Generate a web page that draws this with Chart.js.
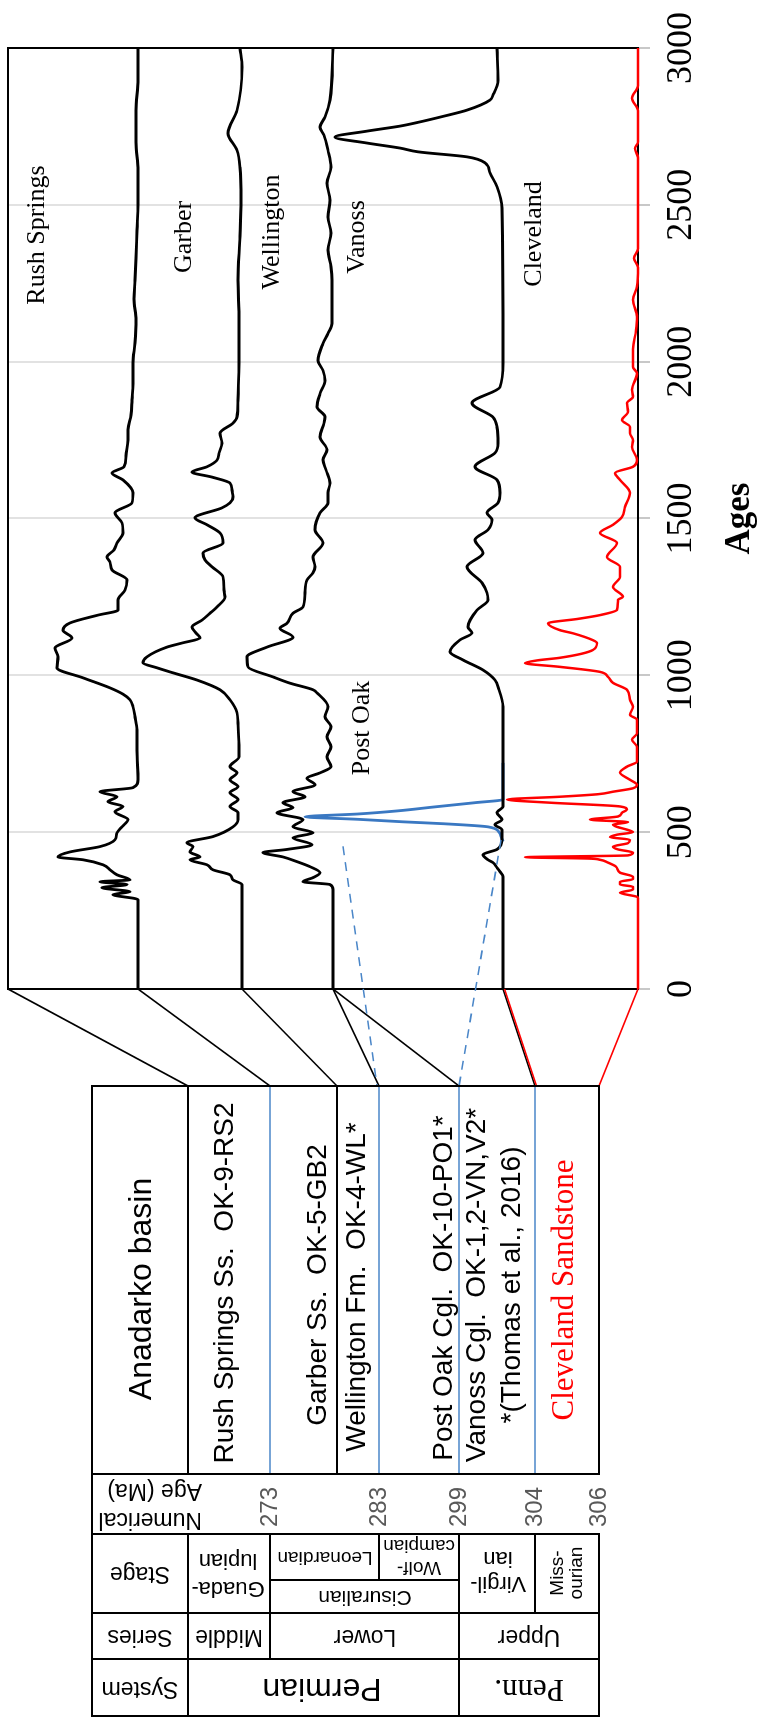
<!DOCTYPE html>
<html>
<head>
<meta charset="utf-8">
<script src="https://cdn.jsdelivr.net/npm/chart.js@4.4.1/dist/chart.umd.min.js"></script>
<style>
  html, body { margin: 0; padding: 0; background: #fff; }
  body { width: 762px; height: 1720px; overflow: hidden; position: relative; }
  /* the figure is drawn lying on its side, then turned a quarter turn */
  #wrap { position: absolute; left: 0; top: 0; width: 1720px; height: 762px;
          transform-origin: 0 0; transform: translateY(1720px) rotate(-90deg); }
  #agesChart { width: 1720px; height: 762px; }
</style>
</head>
<body>
<div id="wrap"><canvas id="agesChart" width="1720" height="762"></canvas></div>
<script>
// ages axis (Ma)
const ageTicks = [0, 500, 1000, 1500, 2000, 2500, 3000];

// each curve: ages, height above its own baseline, and the baseline
const rushAge = [0, 285, 301, 310, 323, 333, 342, 348, 364, 380, 396, 412, 421, 437, 454, 476, 498, 517, 540, 565, 582, 597, 613, 629, 642, 667, 760, 826, 868, 900, 922, 940, 960, 992, 1024, 1059, 1087, 1119, 1144, 1167, 1192, 1208, 1240, 1272, 1304, 1336, 1361, 1377, 1400, 1422, 1454, 1486, 1518, 1550, 1582, 1623, 1645, 1665, 1700, 1750, 1783, 1830, 1878, 1930, 1996, 2060, 2133, 2200, 2260, 2330, 2419, 2502, 2610, 2700, 2801, 2900, 3000];
const rushH = [0, 0, 25, 8, 36, 11, 38, 8, 21, 28, 35, 55, 80, 68, 38, 23, 21, 16, 10, 23, 15, 30, 21, 38, 5, 0, 1, 1, 3, 5, 8, 15, 28, 55, 81, 80, 83, 66, 75, 68, 40, 20, 20, 13, 11, 26, 28, 31, 24, 21, 15, 16, 23, 6, 5, 15, 26, 14, 12, 10, 10, 7, 6, 5, 5, 3, 2, 4, 3, 2, 1, 0, 0, 2, 2, 0, 0];
const rushBase = 500;

const garberAge = [0, 333, 348, 364, 380, 396, 412, 421, 437, 454, 466, 486, 517, 540, 562, 582, 604, 626, 645, 667, 689, 709, 740, 778, 848, 881, 922, 954, 985, 1008, 1024, 1040, 1059, 1090, 1103, 1119, 1135, 1154, 1176, 1198, 1218, 1250, 1272, 1314, 1346, 1368, 1390, 1422, 1454, 1480, 1502, 1534, 1550, 1569, 1591, 1613, 1632, 1648, 1665, 1686, 1708, 1740, 1772, 1804, 1824, 1878, 1996, 2133, 2260, 2400, 2515, 2620, 2674, 2728, 2801, 2939, 3000];
const garberH = [0, 0, 9, 12, 29, 35, 52, 42, 52, 49, 55, 29, 9, 4, 4, 12, 4, 12, 4, 12, 5, 12, 3, 3, 4, 5, 12, 22, 45, 69, 85, 99, 95, 75, 60, 42, 46, 50, 40, 32, 25, 17, 18, 19, 30, 37, 39, 19, 22, 35, 47, 20, 12, 9, 10, 12, 30, 50, 35, 25, 23, 20, 22, 9, 5, 4, 3, 3, 4, 2, 1, 2, 5, 14, 5, 0, 2];
const garberBase = 396;

const wellAge = [0, 317, 333, 342, 355, 371, 390, 406, 421, 435, 445, 460, 482, 498, 517, 540, 562, 578, 594, 613, 629, 651, 672, 689, 709, 740, 772, 804, 836, 868, 900, 944, 954, 975, 995, 1027, 1059, 1090, 1122, 1150, 1166, 1198, 1218, 1263, 1304, 1327, 1346, 1377, 1422, 1464, 1518, 1550, 1582, 1613, 1655, 1687, 1719, 1760, 1804, 1824, 1856, 1898, 1940, 1972, 2004, 2058, 2090, 2122, 2260, 2302, 2356, 2410, 2461, 2515, 2569, 2620, 2674, 2722, 2748, 2780, 2834, 3000];
const wellH = [0, 0, 3, 30, 20, 13, 23, 36, 50, 70, 46, 21, 40, 20, 40, 30, 56, 40, 50, 28, 40, 18, 26, 13, 2, 6, 2, 6, 2, 8, 5, 16, 20, 43, 60, 85, 86, 66, 40, 53, 46, 40, 30, 28, 26, 20, 18, 20, 10, 18, 13, 5, 5, 3, 7, 10, 6, 13, 9, 8, 16, 13, 8, 10, 15, 10, 5, 1, 1, 2, 5, 2, 5, 3, 6, 2, 5, 9, 13, 8, 3, 0];
const wellBase = 305;

const vanAge = [0, 358, 374, 387, 403, 412, 428, 445, 460, 476, 508, 524, 540, 562, 582, 900, 922, 954, 985, 1017, 1049, 1075, 1113, 1135, 1154, 1208, 1240, 1263, 1295, 1346, 1390, 1432, 1464, 1496, 1518, 1550, 1582, 1623, 1665, 1709, 1740, 1791, 1823, 1868, 1919, 1996, 2490, 2558, 2602, 2634, 2653, 2669, 2681, 2697, 2716, 2735, 2751, 2763, 2782, 2802, 2834, 2850, 2897, 3000];
const vanH = [0, 0, 3, 6, 10, 15, 20, 6, 2, 1, 1, 8, 1, 6, 0, 0, 1, 4, 8, 20, 40, 53, 43, 31, 35, 26, 15, 16, 21, 36, 20, 28, 15, 11, 16, 5, 3, 6, 28, 8, 5, 6, 10, 31, 3, 0, 1, 6, 13, 18, 36, 85, 103, 136, 168, 136, 103, 85, 60, 36, 13, 10, 5, 6];
const vanBase = 135;

const postAge = [470, 486, 500, 517, 527, 533, 541, 549, 558, 568, 580, 594, 604, 613, 721];
const postH = [0, 2, 4, 15, 60, 100, 145, 198, 145, 105, 70, 28, 0, 0, 0];
const postBase = 135;

const clevAge = [0, 290, 294, 307, 317, 326, 333, 342, 350, 358, 371, 390, 403, 412, 416, 420, 426, 435, 445, 454, 465, 476, 484, 492, 500, 508, 517, 524, 532, 540, 550, 562, 572, 582, 594, 604, 613, 621, 629, 640, 651, 667, 690, 709, 725, 741, 772, 795, 815, 859, 874, 900, 922, 954, 976, 995, 1011, 1027, 1039, 1048, 1056, 1081, 1103, 1112, 1134, 1144, 1166, 1180, 1192, 1209, 1241, 1250, 1282, 1314, 1346, 1377, 1422, 1454, 1480, 1505, 1537, 1582, 1623, 1645, 1665, 1687, 1728, 1750, 1772, 1792, 1814, 1840, 1868, 1888, 1910, 1963, 1983, 2040, 2100, 2143, 2197, 2240, 2300, 2330, 2360, 2650, 2680, 2700, 2800, 2840, 2880, 3000];
const clevH = [0, 0, 1, 18, 5, 5, 18, 18, 5, 5, 18, 22, 30, 38, 50, 113, 10, 5, 20, 25, 10, 8, 28, 21, 5, 11, 21, 25, 10, 48, 20, 16, 11, 18, 88, 131, 78, 40, 25, 5, 1, 8, 18, 11, 1, 1, 1, 6, 1, 1, 8, 5, 8, 11, 25, 30, 38, 78, 113, 100, 78, 45, 41, 45, 65, 78, 90, 60, 38, 21, 20, 15, 25, 18, 18, 31, 21, 38, 25, 16, 13, 8, 18, 23, 5, 1, 6, 5, 8, 8, 16, 10, 11, 5, 6, 1, 5, 5, 2, 1, 5, 1, 0, 4, 0, 0, 3, 0, 0, 6, 0, 0];
const clevBase = 0;

// time column of the table
const stageAges = ['273', '283', '299', '304', '306'];
const stageCols = [270, 379, 459, 535, 599];

const stack = (ages, h, base) => ages.map((a, i) => ({ x: a, y: base + h[i] }));

const H = 1720;
const sans = '"Liberation Sans", Arial, sans-serif';
const serif = '"Liberation Serif", "Times New Roman", serif';
const UP = -Math.PI / 2, FLIP = Math.PI;
const blue = '#4a86c8';

function words(ctx, lines, x, y, font, color, angle, gap, align) {
  ctx.save();
  ctx.translate(x, y);
  ctx.rotate(angle);
  ctx.font = font;
  ctx.fillStyle = color;
  ctx.textAlign = align || 'center';
  ctx.textBaseline = 'middle';
  const start = -(lines.length - 1) * (gap || 0) / 2;
  lines.forEach((s, i) => ctx.fillText(s, 0, start + i * (gap || 0)));
  ctx.restore();
}

function seg(ctx, x1, y1, x2, y2) {
  ctx.beginPath();
  ctx.moveTo(x1, y1);
  ctx.lineTo(x2, y2);
  ctx.stroke();
}

const frame = {
  id: 'frame',
  beforeDatasetsDraw(chart) {
    const a = chart.chartArea, ctx = chart.ctx;
    ctx.save();
    ctx.strokeStyle = '#000';
    ctx.lineWidth = 2;
    ctx.strokeRect(a.left, a.top, a.right - a.left, a.bottom - a.top);
    ctx.restore();
  },
  afterDraw(chart) {
    const ctx = chart.ctx;
    const xs = chart.scales.x, ys = chart.scales.y;
    // picture coordinates: x across the page, y down the page
    const pic = (age, v) => [ys.getPixelForValue(v), H - xs.getPixelForValue(age)];
    ctx.save();
    ctx.setTransform(0, 1, -1, 0, H, 0);

    // curve names
    const nm = '26px ' + serif;
    words(ctx, ['Rush Springs'], 37, 235, nm, '#000', UP);
    words(ctx, ['Garber'], 184, 237, nm, '#000', UP);
    words(ctx, ['Wellington'], 272, 232, nm, '#000', UP);
    words(ctx, ['Vanoss'], 357, 237, nm, '#000', UP);
    words(ctx, ['Cleveland'], 534, 234, nm, '#000', UP);
    words(ctx, ['Post Oak'], 362, 728, nm, '#000', UP);

    // lines from the curve baselines down to the table
    const tTop = 1086;
    ctx.lineWidth = 1.6;
    ctx.strokeStyle = '#000';
    let p = pic(0, 630); seg(ctx, p[0], p[1], 188, tTop);
    p = pic(0, rushBase); seg(ctx, p[0], p[1], 270, tTop);
    p = pic(0, garberBase); seg(ctx, p[0], p[1], 337, tTop);
    p = pic(0, wellBase); seg(ctx, p[0], p[1], 379, tTop);
    seg(ctx, p[0], p[1], 459, tTop);
    p = pic(0, vanBase); seg(ctx, p[0], p[1], 535, tTop);
    ctx.strokeStyle = '#ff0000';
    seg(ctx, p[0] + 1.5, p[1], 536.5, tTop);
    p = pic(0, clevBase); seg(ctx, p[0], p[1], 599, tTop);
    ctx.strokeStyle = blue;
    ctx.setLineDash([9, 7]);
    p = pic(455, 295); seg(ctx, p[0], p[1], 377, tTop);
    p = pic(475, postBase + 2); seg(ctx, p[0], p[1], 459, tTop);
    ctx.setLineDash([]);

    // upper part of the table
    ctx.lineWidth = 1.6;
    ctx.strokeStyle = blue;
    stageCols.slice(0, 4).forEach(x => seg(ctx, x, tTop, x, 1474));
    ctx.strokeStyle = '#000';
    ctx.lineWidth = 2;
    ctx.strokeRect(92, tTop, 507, 388);
    seg(ctx, 188, tTop, 188, 1474);
    seg(ctx, 337, tTop, 337, 1474);

    const big = '32px ' + sans, mid = '28px ' + sans;
    words(ctx, ['Anadarko basin'], 142, 1289, big, '#000', UP);
    words(ctx, ['Rush Springs Ss.  OK-9-RS2'], 225, 1283, mid, '#000', UP);
    words(ctx, ['Garber Ss.  OK-5-GB2'], 318, 1285, mid, '#000', UP);
    words(ctx, ['Wellington Fm.  OK-4-WL*'], 357, 1287, mid, '#000', UP);
    words(ctx, ['Post Oak Cgl.  OK-10-PO1*'], 444, 1288, mid, '#000', UP);
    words(ctx, ['Vanoss Cgl.  OK-1,2-VN,V2*'], 477, 1285, mid, '#000', UP);
    words(ctx, ['*(Thomas et al., 2016)'], 512, 1285, mid, '#000', UP);
    words(ctx, ['Cleveland Sandstone'], 565, 1290, '31px ' + serif, '#ff0000', UP);

    // time column
    seg(ctx, 92, 1474, 92, 1534);
    words(ctx, ['Numerical', 'Age (Ma)'], 202, 1505, '23px ' + sans, '#000', FLIP, 29, 'left');
    stageAges.forEach((s, i) => words(ctx, [s], stageCols[i], 1507, '24px ' + sans, '#595959', UP));

    ctx.strokeRect(92, 1534, 507, 182);
    seg(ctx, 92, 1613, 599, 1613);
    seg(ctx, 92, 1659, 599, 1659);
    seg(ctx, 270, 1580, 459, 1580);
    seg(ctx, 188, 1534, 188, 1716);
    seg(ctx, 270, 1534, 270, 1659);
    seg(ctx, 459, 1534, 459, 1716);
    seg(ctx, 535, 1534, 535, 1613);
    seg(ctx, 379, 1534, 379, 1580);

    const cell = '23px ' + sans;
    words(ctx, ['Stage'], 140, 1573, cell, '#000', FLIP);
    words(ctx, ['Guada-', 'lupian'], 228, 1574, '22px ' + sans, '#000', FLIP, 28);
    words(ctx, ['Leonardian'], 325, 1557, '19px ' + sans, '#000', FLIP);
    words(ctx, ['Wolf-', 'campian'], 419, 1556, '19px ' + sans, '#000', FLIP, 22);
    words(ctx, ['Cisuralian'], 365, 1597, '21px ' + sans, '#000', FLIP);
    words(ctx, ['Virgil-', 'ian'], 498, 1571, '22px ' + sans, '#000', FLIP, 25);
    words(ctx, ['Miss-', 'ourian'], 567, 1573, '19px ' + sans, '#000', UP, 19);
    words(ctx, ['Series'], 140, 1636, cell, '#000', FLIP);
    words(ctx, ['Middle'], 229, 1636, cell, '#000', FLIP);
    words(ctx, ['Lower'], 365, 1636, cell, '#000', FLIP);
    words(ctx, ['Upper'], 529, 1636, cell, '#000', FLIP);
    words(ctx, ['System'], 140, 1688, cell, '#000', FLIP);
    words(ctx, ['Permian'], 322, 1688, '32px ' + sans, '#000', FLIP);
    words(ctx, ['Penn.'], 529, 1688, '31px ' + serif, '#000', FLIP);

    ctx.restore();
  }
};

const line = (data, color, width) => ({
  data: data,
  borderColor: color,
  borderWidth: width,
  pointRadius: 0,
  cubicInterpolationMode: 'monotone',
  clip: false,
});

new Chart(document.getElementById('agesChart'), {
  type: 'line',
  data: {
    datasets: [
      line(stack(clevAge, clevH, clevBase), '#ff0000', 2.5),
      line(stack(vanAge, vanH, vanBase), '#000', 2.8),
      line(stack(wellAge, wellH, wellBase), '#000', 2.8),
      line(stack(garberAge, garberH, garberBase), '#000', 2.8),
      line(stack(rushAge, rushH, rushBase), '#000', 2.8),
      line(stack(postAge, postH, postBase), '#3a78c2', 2.8),
    ],
  },
  options: {
    responsive: false,
    animation: false,
    devicePixelRatio: 1,
    layout: { padding: { left: 731, right: 48, top: 8, bottom: 0 } },
    plugins: {
      legend: { display: false },
      tooltip: { enabled: false },
    },
    scales: {
      x: {
        type: 'linear',
        min: 0,
        max: 3000,
        afterBuildTicks: (s) => { s.ticks = ageTicks.map(v => ({ value: v })); },
        afterFit: (s) => { s.height = 124; },
        ticks: {
          callback: (v) => String(v),
          color: '#000',
          padding: 10,
          maxRotation: 0,
          font: { family: serif, size: 36 },
        },
        grid: { color: '#e2e2e2', lineWidth: 2, tickLength: 12, tickColor: '#c8c8c8' },
        border: { color: '#000', width: 2 },
        title: {
          display: true,
          text: 'Ages',
          color: '#000',
          padding: { top: 0, bottom: 1 },
          font: { family: serif, size: 35, weight: 'bold' },
        },
      },
      y: { display: false, min: 0, max: 630 },
    },
  },
  plugins: [frame],
});
</script>
</body>
</html>
